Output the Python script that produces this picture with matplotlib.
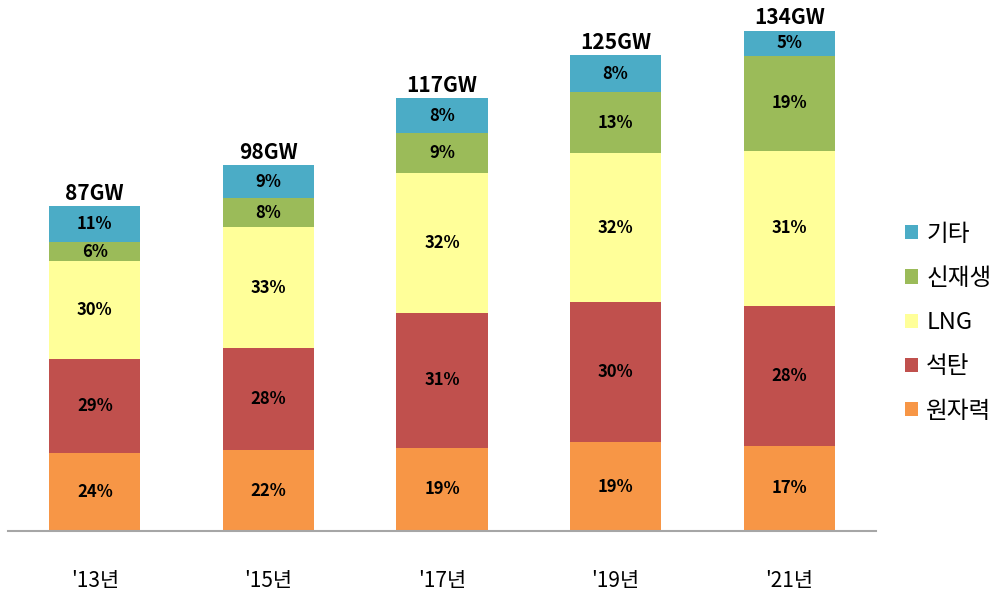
import matplotlib
matplotlib.use("Agg")
import matplotlib.pyplot as plt
from matplotlib.patches import Patch

plt.rcParams['font.family'] = ['Noto Sans CJK KR', 'DejaVu Sans']

# --- data ---
years = ["'13년", "'15년", "'17년", "'19년", "'21년"]
totals = [87, 98, 117, 125, 134]  # GW
series = ['원자력', '석탄', 'LNG', '신재생', '기타']
nuclear = [24, 22, 19, 19, 17]
coal = [29, 28, 31, 30, 28]
lng = [30, 33, 32, 32, 31]
renew = [6, 8, 9, 13, 19]
other = [11, 9, 8, 8, 5]
colors = ['#F79646', '#C0504D', '#FFFF99', '#9BBB59', '#4BACC6']

shares = [nuclear, coal, lng, renew, other]

fig = plt.figure(figsize=(10, 5.93), dpi=100)
ax = fig.add_axes([0.008, 0.1046, 0.868, 0.8954])

x = list(range(len(years)))
bottoms = [0.0] * len(years)
for name, vals, col in zip(series, shares, colors):
    # segment height in GW = share * total
    heights = [v / 100 * totals[i] for i, v in enumerate(vals)]
    ax.bar(x, heights, width=0.525, bottom=bottoms, color=col, label=name,
           edgecolor='none')
    for i, h in enumerate(heights):
        ax.text(x[i], bottoms[i] + h / 2, f"{vals[i]}%", ha='center', va='center',
                fontsize=12, fontweight='bold', color='black')
    bottoms = [b + h for b, h in zip(bottoms, heights)]

for i, t in enumerate(totals):
    ax.text(x[i], bottoms[i] + 0.6, f"{t}GW", ha='center', va='bottom',
            fontsize=15, fontweight='bold', color='black')

ax.set_xlim(-0.5, len(years) - 0.5)
ax.set_ylim(0, 142.2)
ax.set_xticks(x)
ax.set_xticklabels(years, fontsize=15)
ax.tick_params(axis='x', length=0, pad=28)
ax.set_yticks([])
for side in ['top', 'right', 'left']:
    ax.spines[side].set_visible(False)
ax.spines['bottom'].set_color('#A6A6A6')
ax.spines['bottom'].set_linewidth(1.5)

handles = [Patch(facecolor=c, edgecolor='none', label=n)
           for n, c in zip(series, colors)][::-1]
fig.legend(handles=handles, loc='center left', bbox_to_anchor=(0.905, 0.456),
           frameon=False, fontsize=17, handlelength=0.55, handleheight=0.55,
           handletextpad=0.35, labelspacing=0.9, borderpad=0, borderaxespad=0)

fig.savefig('out.png', dpi=100)
